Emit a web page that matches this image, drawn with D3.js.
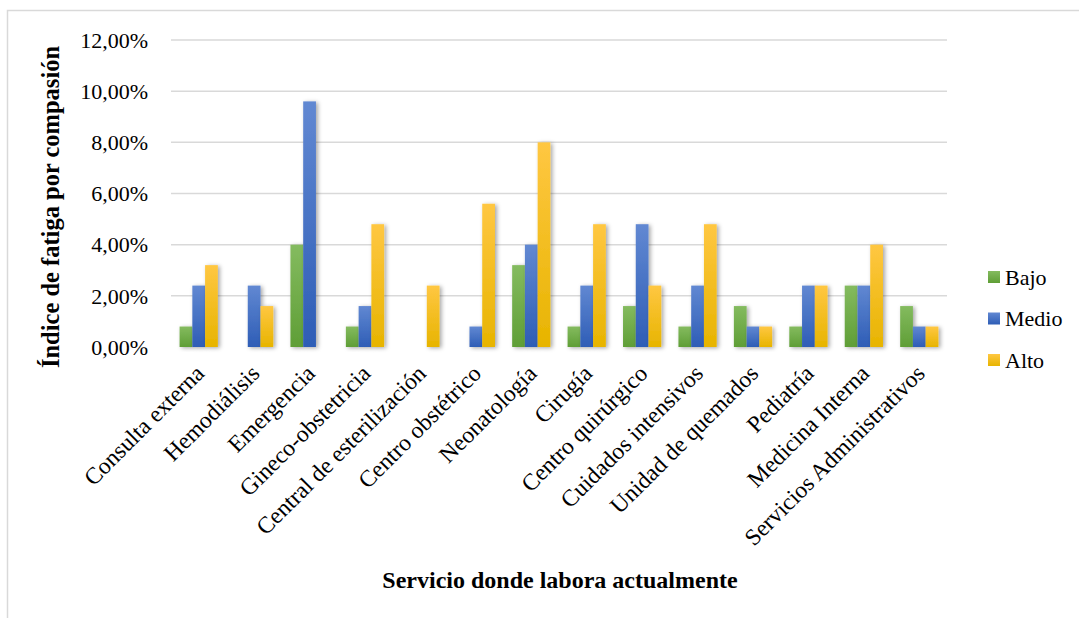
<!DOCTYPE html>
<html>
<head>
<meta charset="utf-8">
<script src="https://cdn.jsdelivr.net/npm/d3@7"></script>
<style>
  body { margin: 0; background: #fff; }
  text { font-family: "Liberation Serif", "Times New Roman", serif; fill: #000; }
</style>
</head>
<body>
<div id="chart"><svg></svg></div>
<script>
// data (percent)
var servicios = ["Consulta externa", "Hemodiálisis", "Emergencia", "Gineco-obstetricia",
  "Central de esterilización", "Centro obstétrico", "Neonatología", "Cirugía",
  "Centro quirúrgico", "Cuidados intensivos", "Unidad de quemados", "Pediatría",
  "Medicina Interna", "Servicios Administrativos"];
var niveles = ["Bajo", "Medio", "Alto"];
var bajo  = [0.8, 0, 4.0, 0.8, 0, 0, 3.2, 0.8, 1.6, 0.8, 1.6, 0.8, 2.4, 1.6];
var medio = [2.4, 2.4, 9.6, 1.6, 0, 0.8, 4.0, 2.4, 4.8, 2.4, 0.8, 2.4, 2.4, 0.8];
var alto  = [3.2, 1.6, 0, 4.8, 2.4, 5.6, 8.0, 4.8, 2.4, 4.8, 0.8, 2.4, 4.0, 0.8];
var yTicks = [0, 2, 4, 6, 8, 10, 12];

var width = 1079, height = 618;
var colors = {
  Bajo:  ["#84bb5f", "#5f9e36"],
  Medio: ["#6188d2", "#2e5db6"],
  Alto:  ["#ffc742", "#e7b400"]
};

var svg = d3.select("#chart").select("svg")
  .attr("width", width).attr("height", height);

var defs = svg.append("defs");
niveles.forEach(function(n) {
  var g = defs.append("linearGradient").attr("id", "grad-" + n)
    .attr("x1", 0).attr("y1", 0).attr("x2", 0).attr("y2", 1);
  g.append("stop").attr("offset", "0%").attr("stop-color", colors[n][0]);
  g.append("stop").attr("offset", "100%").attr("stop-color", colors[n][1]);
});
var shadow = defs.append("filter").attr("id", "shadow")
  .attr("x", "-50%").attr("y", "-20%").attr("width", "200%").attr("height", "140%");
shadow.append("feDropShadow").attr("dx", 2).attr("dy", 1).attr("stdDeviation", 2)
  .attr("flood-color", "#000").attr("flood-opacity", 0.35);

// outer frame
svg.append("rect")
  .attr("x", 7.5).attr("y", 10.5).attr("width", 1200).attr("height", 700)
  .attr("fill", "none").attr("stroke", "#d9d9d9").attr("stroke-width", 1.5);

var x = d3.scaleBand().domain(servicios).range([171, 947]);
var x1 = d3.scaleBand().domain(niveles).range([0, x.bandwidth() * 0.69]);
var y = d3.scaleLinear().domain([0, 12]).range([347, 40]);

// gridlines
svg.append("g").selectAll("line")
  .data(yTicks)
  .enter().append("line")
  .attr("x1", 171).attr("x2", 947)
  .attr("y1", function(d) { return y(d); })
  .attr("y2", function(d) { return y(d); })
  .attr("stroke", "#d9d9d9").attr("stroke-width", 1.5)
  .attr("filter", function(d) { return d === 0 ? "url(#shadow)" : null; });

// y tick labels
svg.append("g").selectAll("text")
  .data(yTicks)
  .enter().append("text")
  .attr("x", 148)
  .attr("y", function(d) { return y(d); })
  .attr("dy", "0.35em")
  .attr("text-anchor", "end")
  .style("font-size", "22px")
  .text(function(d) { return d3.format(".2f")(d).replace(".", ",") + "%"; });

var series = { Bajo: bajo, Medio: medio, Alto: alto };
var offset = (x.bandwidth() - x1.range()[1]) / 2;

var groups = svg.append("g").selectAll("g")
  .data(servicios)
  .enter().append("g")
  .attr("transform", function(d) { return "translate(" + (x(d) + offset) + ",0)"; });

groups.selectAll("rect")
  .data(function(d, i) {
    return niveles.map(function(n) { return { nivel: n, value: series[n][i] }; })
      .filter(function(e) { return e.value > 0; });
  })
  .enter().append("rect")
  .attr("x", function(d) { return x1(d.nivel); })
  .attr("width", x1.bandwidth())
  .attr("y", function(d) { return y(d.value); })
  .attr("height", function(d) { return y(0) - y(d.value); })
  .attr("fill", function(d) { return "url(#grad-" + d.nivel + ")"; })
  .attr("filter", "url(#shadow)");

// category labels, rotated
svg.append("g").selectAll("text")
  .data(servicios)
  .enter().append("text")
  .attr("transform", function(d) {
    return "translate(" + (x(d) + x.bandwidth() / 2 + 1) + ",369) rotate(-45)";
  })
  .attr("dy", "0.35em")
  .attr("text-anchor", "end")
  .style("font-size", "23.5px")
  .text(function(d) { return d; });

// axis titles
svg.append("text")
  .attr("transform", "translate(59,207) rotate(-90)")
  .attr("text-anchor", "middle")
  .style("font-size", "24.5px").style("font-weight", "bold")
  .text("Índice de fatiga por compasión");

svg.append("text")
  .attr("x", 560).attr("y", 588)
  .attr("text-anchor", "middle")
  .style("font-size", "24px").style("font-weight", "bold")
  .text("Servicio donde labora actualmente");

// legend
var legend = svg.append("g").selectAll("g")
  .data(niveles)
  .enter().append("g")
  .attr("transform", function(d, i) { return "translate(988," + (271 + i * 41.5) + ")"; });
legend.append("rect")
  .attr("width", 12).attr("height", 12)
  .attr("fill", function(d) { return "url(#grad-" + d + ")"; });
legend.append("text")
  .attr("x", 17).attr("y", 6).attr("dy", "0.35em")
  .style("font-size", "22px")
  .text(function(d) { return d; });
</script>
</body>
</html>
